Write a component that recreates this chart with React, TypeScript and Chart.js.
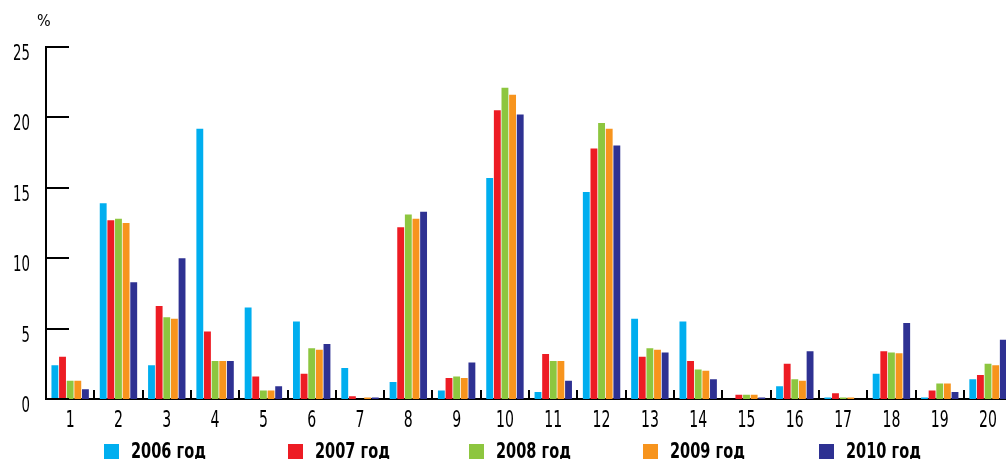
import React, { useEffect, useRef } from "react";
import { Chart, registerables } from "chart.js";

Chart.register(...registerables);

const categories = ["1", "2", "3", "4", "5", "6", "7", "8", "9", "10", "11", "12", "13", "14", "15", "16", "17", "18", "19", "20"];
const seriesNames = ["2006 год", "2007 год", "2008 год", "2009 год", "2010 год"];
const seriesColors = ["#00AEEF", "#ED1C24", "#8DC63F", "#F7941D", "#2E3192"];
const y2006 = [2.4, 13.9, 2.4, 19.2, 6.5, 5.5, 2.2, 1.2, 0.6, 15.7, 0.5, 14.7, 5.7, 5.5, 0, 0.9, 0.1, 1.8, 0.1, 1.4];
const y2007 = [3.0, 12.7, 6.6, 4.8, 1.6, 1.8, 0.2, 12.2, 1.5, 20.5, 3.2, 17.8, 3.0, 2.7, 0.3, 2.5, 0.4, 3.4, 0.6, 1.7];
const y2008 = [1.3, 12.8, 5.8, 2.7, 0.6, 3.6, 0, 13.1, 1.6, 22.1, 2.7, 19.6, 3.6, 2.1, 0.3, 1.4, 0.1, 3.3, 1.1, 2.5];
const y2009 = [1.3, 12.5, 5.7, 2.7, 0.6, 3.5, 0.1, 12.8, 1.5, 21.6, 2.7, 19.2, 3.5, 2.0, 0.3, 1.3, 0.1, 3.25, 1.1, 2.4];
const y2010 = [0.7, 8.3, 10.0, 2.7, 0.9, 3.9, 0.1, 13.3, 2.6, 20.2, 1.3, 18.0, 3.3, 1.4, 0.1, 3.4, 0, 5.4, 0.5, 4.2];
const seriesValues = [y2006, y2007, y2008, y2009, y2010];
const yMin = 0;
const yMax = 25;
const yStep = 5;
const yUnit = "%";

const legendX = [104, 288, 469, 643, 819];
const FONT = "'Liberation Sans Narrow', 'DejaVu Sans Condensed', 'DejaVu Sans', sans-serif";

// inward tick marks on both axes + condensed tick labels
const axisDecor = {
  id: "axisDecor",
  afterDatasetsDraw(chart: any) {
    const { ctx, scales, chartArea } = chart;
    const x = scales.x;
    const y = scales.y;
    ctx.save();
    ctx.strokeStyle = "#000";
    ctx.lineWidth = 2;
    y.ticks.forEach((_t: any, i: number) => {
      const py = Math.round(y.getPixelForTick(i));
      ctx.beginPath();
      ctx.moveTo(chartArea.left - 1, py);
      ctx.lineTo(chartArea.left + 23, py);
      ctx.stroke();
    });
    for (let i = 0; i <= categories.length; i++) {
      const px = Math.round(x.getPixelForValue(i - 0.5));
      ctx.beginPath();
      ctx.moveTo(px, chartArea.bottom + 1);
      ctx.lineTo(px, chartArea.bottom - 9);
      ctx.stroke();
    }
    ctx.restore();
  },
  afterDraw(chart: any) {
    const { ctx, scales, chartArea } = chart;
    const x = scales.x;
    const y = scales.y;
    ctx.save();
    ctx.fillStyle = "#000";
    ctx.textBaseline = "alphabetic";
    ctx.font = `20.5px ${FONT}`;
    ctx.textAlign = "right";
    y.ticks.forEach((t: any, i: number) => {
      const py = y.getPixelForTick(i);
      ctx.save();
      ctx.translate(chartArea.left - 16, py + 13);
      ctx.scale(0.72, 1);
      ctx.fillText(String(t.label), 0, 0);
      ctx.restore();
    });
    ctx.font = `23px ${FONT}`;
    ctx.textAlign = "center";
    x.ticks.forEach((_t: any, i: number) => {
      const px = x.getPixelForTick(i);
      ctx.save();
      ctx.translate(px, chartArea.bottom + 28);
      ctx.scale(0.68, 1);
      ctx.fillText(String(x.getLabelForValue(i)), 0, 0);
      ctx.restore();
    });
    ctx.restore();
  },
};

export default function App() {
  const ref = useRef<HTMLCanvasElement>(null);
  useEffect(() => {
    if (!ref.current) return;
    const chart = new Chart(ref.current, {
      type: "bar",
      data: {
        labels: categories,
        datasets: seriesNames.map((name, i) => ({
          label: name,
          data: seriesValues[i],
          backgroundColor: seriesColors[i],
          borderWidth: 0,
          categoryPercentage: 0.79,
          barPercentage: 0.9,
        })),
      },
      options: {
        animation: false,
        responsive: false,
        layout: { padding: { top: 47, right: 7.8, left: 0, bottom: 0 } },
        plugins: { legend: { display: false }, tooltip: { enabled: false } },
        scales: {
          x: {
            grid: { display: false, drawTicks: false },
            border: { display: true, color: "#000", width: 2 },
            ticks: { display: false, autoSkip: false },
            afterFit: (s: any) => { s.height = 60; },
          },
          y: {
            min: yMin,
            max: yMax,
            grid: { display: false, drawTicks: false },
            border: { display: true, color: "#000", width: 2 },
            ticks: { display: false, stepSize: yStep },
            afterFit: (s: any) => { s.width = 46; },
          },
        },
      },
      plugins: [axisDecor],
    });
    return () => chart.destroy();
  }, []);

  return (
    <div style={{ position: "fixed", left: 0, top: 0, width: 1006, height: 459, overflow: "hidden", background: "#fff" }}>
      <div style={{ position: "absolute", left: 0, top: 0, width: 1020, height: 459 }}>
        <canvas ref={ref} width={1020} height={459} style={{ display: "block" }} />
      </div>
      <div style={{ position: "absolute", left: 37, top: 12, font: `16px ${FONT}`, color: "#000", lineHeight: "18px" }}>{yUnit}</div>
      {seriesNames.map((name, i) => (
        <div key={name} style={{ position: "absolute", left: legendX[i], top: 439, height: 24, display: "flex", alignItems: "center", whiteSpace: "nowrap" }}>
          <span style={{ display: "inline-block", width: 15, height: 15, background: seriesColors[i], marginRight: 12 }} />
          <span style={{ display: "inline-block", font: `bold 21px ${FONT}`, color: "#000", lineHeight: "24px", transform: "scaleX(0.77)", transformOrigin: "left center" }}>{name}</span>
        </div>
      ))}
    </div>
  );
}
